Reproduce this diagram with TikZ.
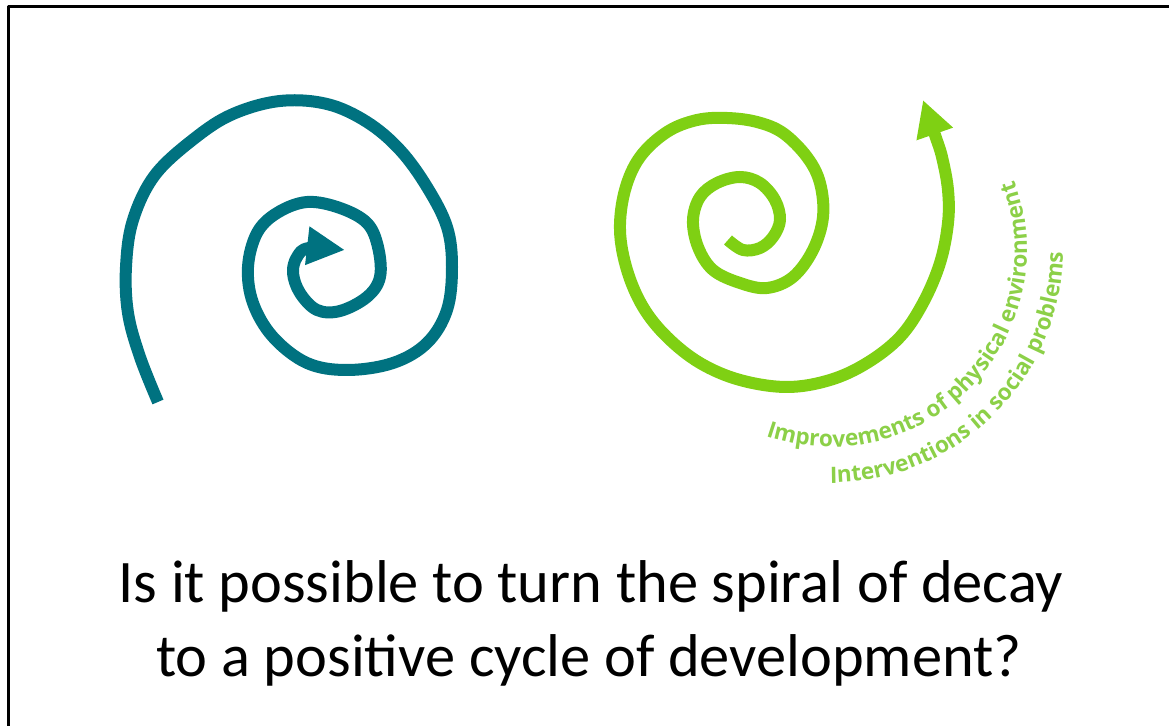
\documentclass[tikz,border=0pt]{standalone}
\usepackage{fontspec}
\usetikzlibrary{arrows.meta}
\usetikzlibrary{decorations.text}
\newfontfamily\questfont{Carlito}
\newfontfamily\arcfont{Open Sans}
\definecolor{decayteal}{RGB}{0,114,128}
\definecolor{growgreen}{RGB}{127,208,19}
\definecolor{notegreen}{RGB}{140,208,72}

\begin{document}
\begin{tikzpicture}[x=0.5pt, y=-0.5pt, line join=round]
		\tikzstyle{spiral}=[line width=6pt]
		\tikzstyle{question}=[font=\questfont\fontsize{30.2}{36}\selectfont, anchor=base, inner sep=0pt]
		\tikzstyle{arcnote}=[decorate, decoration={text along path, text align=left, text color=notegreen}]
		
		\useasboundingbox (0,0) rectangle (1169,726);
		
		% frame
		\coordinate (fl) at (8.5,726);
		\coordinate (ft) at (8.5,6.5);
		\coordinate (fr) at (1169,6.5);
		\draw[line width=1.5pt] (fl) -- (ft) -- (fr);
		
		% spiral of decay
		\draw[spiral, decayteal, -{Triangle[length=19pt, width=18pt]}] plot[smooth, tension=0.6] coordinates {
			(158,402) (140,357) (128,313) (126,267) (133,220) (155,175) (195,138) (233,114)
			(280,101) (327,104) (367,122) (400,150) (427,187) (447,227) (452,267) (447,310)
			(427,343) (393,363) (347,370) (307,363) (273,337) (253,303) (248,267) (257,233)
			(277,213) (307,202) (340,208) (367,223) (378,247) (380,277) (367,297) (340,311)
			(317,310) (300,293) (293,273) (297,257) (309,248) (345,250)};
		
		% cycle of development
		\draw[spiral, growgreen, -{Triangle[length=18pt, width=18pt]}] plot[smooth, tension=0.6] coordinates {
			(728,240) (743,250) (760,248) (773,237) (780,220) (775,200) (760,183) (740,177)
			(717,183) (700,197) (693,220) (698,247) (713,270) (740,283) (767,288) (793,277)
			(813,250) (823,217) (820,183) (807,157) (783,133) (757,122) (727,118) (697,120)
			(667,132) (640,157) (625,190) (620,230) (627,270) (643,307) (667,337) (700,363)
			(740,380) (787,387) (830,380) (867,363) (900,337) (923,303) (940,263) (948,223)
			(948,190) (942,157) (935,135) (923,100)};
		
		\coordinate (arcc) at (830,250);
		\path[arcnote, decoration={text={|\arcfont\bfseries\fontsize{11.3}{13}\selectfont|Improvements of physical environment}}]
			(arcc) ++(109:197) arc[start angle=109, end angle=-26, radius=197];
		\path[arcnote, decoration={text={|\arcfont\bfseries\fontsize{11.3}{13}\selectfont|Interventions in social problems}}]
			(arcc) ++(90:233) arc[start angle=90, end angle=-12, radius=233];
		
		\node[question] (q1) at (591,603) {Is it possible to turn the spiral of decay};
		\node[question] (q2) at (589,677) {to a positive cycle of development?};
	\end{tikzpicture}
\end{document}
